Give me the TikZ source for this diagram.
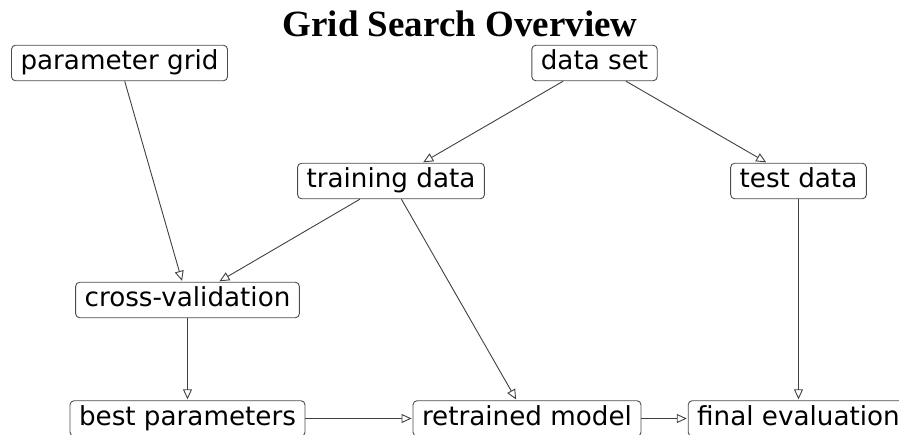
\documentclass[tikz,border=0pt]{standalone}
\usepackage{fontspec}
\usepackage{tikz}
\usetikzlibrary{arrows.meta}
\newfontfamily\boxfont{DejaVu Sans}
\newfontfamily\titlefont{Liberation Serif}
\begin{document}
\begin{tikzpicture}[x=1pt,y=-1pt,
    every node/.style={font=\boxfont\fontsize{26.2}{30}\selectfont},
    stage/.style={draw=black!70,line width=0.9pt,rounded corners=4pt,
      inner xsep=9pt,inner ysep=5pt,text height=19.5pt,text depth=6pt},
    flow/.style={draw=black!75,line width=0.9pt,shorten >=1pt,
      -{Triangle[open,length=10pt,width=9pt]}}]
  \clip (0,0) rectangle (899,434);
  \useasboundingbox (0,0) rectangle (899,434);
  \node[font=\titlefont\bfseries\fontsize{37}{40}\selectfont,anchor=base] (T) at (460,36.5) {Grid Search Overview};
  \node[stage] (P) at (119.5,63) {parameter grid};
  \node[stage] (D) at (594.5,63) {data set};
  \node[stage] (TR) at (391,181) {training data};
  \node[stage] (TE) at (798.5,181) {test data};
  \node[stage] (CV) at (187.5,300) {cross-validation};
  \node[stage] (BP) at (187.5,418.5) {best parameters};
  \node[stage] (RM) at (527,418.5) {retrained model};
  \node[stage] (FE) at (798.5,418.5) {final evaluation};
  \path[flow] (P) edge (CV);
  \path[flow] (D) edge (TR);
  \path[flow] (D) edge (TE);
  \path[flow] (TR) edge (CV);
  \path[flow] (TR) edge (RM);
  \path[flow] (TE) edge (FE);
  \path[flow] (CV) edge (BP);
  \path[flow] (BP) edge (RM);
  \path[flow] (RM) edge (FE);
\end{tikzpicture}
\end{document}
